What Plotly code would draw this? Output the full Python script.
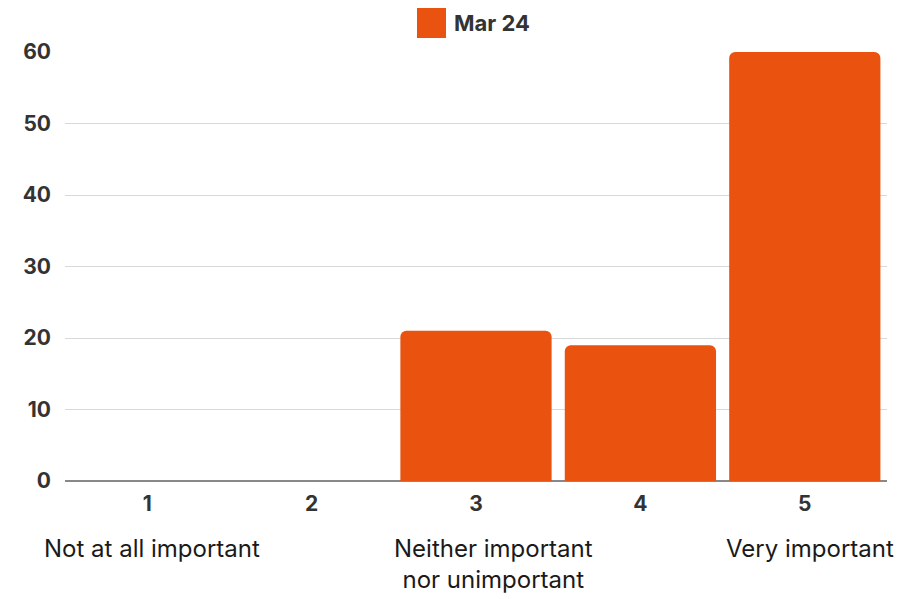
import plotly.graph_objects as go

categories = ["1", "2", "3", "4", "5"]
values = [0, 0, 21, 19, 60]
series_name = "Mar 24"
sub_labels = [(0, "Not at all important"), (2, "Neither important<br>nor unimportant"), (4, "Very important")]
y_ticks = [0, 10, 20, 30, 40, 50, 60]

color = "#E9530F"
font_family = "Inter, 'Open Sans', sans-serif"

fig = go.Figure()
fig.add_trace(go.Bar(x=categories, y=values, name=series_name, marker_color=color,
                     marker_line_width=0, showlegend=False))

fig.update_layout(
    width=922, height=599,
    margin=dict(l=65, r=35, t=52, b=118),
    paper_bgcolor="white", plot_bgcolor="white",
    bargap=0.08,
    barcornerradius=6,
    font=dict(family=font_family, color="#333333"),
)
fig.update_xaxes(type="category", range=[-0.5, 4.5], showgrid=False, showline=False,
                 tickfont=dict(size=21, family=font_family, weight="bold", color="#333333"),
                 ticks="", ticklabelstandoff=8)
fig.update_yaxes(range=[0, 60], tickvals=y_ticks, showgrid=True, gridcolor="#D9D9D9", gridwidth=1,
                 zeroline=True, zerolinecolor="#888888", zerolinewidth=1.5,
                 tickfont=dict(size=21, family=font_family, weight="bold", color="#333333"),
                 ticks="", ticklabelstandoff=13)

shifts = [5, 17, 5]
for (idx, txt), sh in zip(sub_labels, shifts):
    fig.add_annotation(x=idx, xref="x", y=0, yref="paper", yshift=-51, yanchor="top",
                       xshift=sh, text=txt, showarrow=False,
                       font=dict(size=24, family=font_family, color="#1a1a1a"), align="center")

# legend
fig.add_shape(type="rect", xref="paper", yref="paper",
              x0=(417 - 65) / 822, x1=(446 - 65) / 822,
              y0=1 + (52 - 38) / 429, y1=1 + (52 - 8) / 429,
              fillcolor=color, line_width=0)
fig.add_annotation(xref="paper", yref="paper", x=(452 - 65) / 822, y=1 + (52 - 23) / 429,
                   xanchor="left", yanchor="middle", text=series_name, showarrow=False,
                   font=dict(size=22, family=font_family, weight="bold", color="#333333"))

fig.write_html("out.html")
